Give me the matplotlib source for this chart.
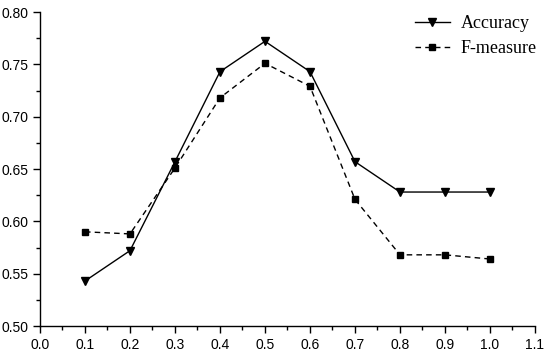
import numpy as np
import matplotlib
matplotlib.use('Agg')
import matplotlib.pyplot as plt
from matplotlib.ticker import MultipleLocator

thresholds = [0.1, 0.2, 0.3, 0.4, 0.5, 0.6, 0.7, 0.8, 0.9, 1.0]
accuracy = [0.543, 0.572, 0.657, 0.743, 0.772, 0.743, 0.657, 0.628, 0.628, 0.628]
f_measure = [0.590, 0.588, 0.651, 0.718, 0.751, 0.729, 0.621, 0.568, 0.568, 0.564]

plt.rcParams['font.family'] = ['Liberation Sans', 'DejaVu Sans']

fig = plt.figure(figsize=(5.5, 3.51), dpi=100)
ax = fig.add_axes([0.0727, 0.0712, 0.90, 0.8946])

ax.plot(thresholds, accuracy, color='black', linewidth=1.0, marker='v',
        markersize=6, label='Accuracy')
ax.plot(thresholds, f_measure, color='black', linewidth=1.0, linestyle=(0, (4, 3)),
        marker='s', markersize=4.5, label='F-measure')

ax.set_xlim(0.0, 1.1)
ax.set_ylim(0.50, 0.80)
ax.xaxis.set_major_locator(MultipleLocator(0.1))
ax.xaxis.set_minor_locator(MultipleLocator(0.05))
ax.yaxis.set_major_locator(MultipleLocator(0.05))
ax.yaxis.set_minor_locator(MultipleLocator(0.025))
ax.xaxis.set_major_formatter(plt.FormatStrFormatter('%.1f'))
ax.yaxis.set_major_formatter(plt.FormatStrFormatter('%.2f'))

for side in ['top', 'right']:
    ax.spines[side].set_visible(False)
for side in ['left', 'bottom']:
    ax.spines[side].set_linewidth(1.0)

ax.tick_params(which='major', direction='out', length=5, width=1, labelsize=10)
ax.tick_params(which='minor', direction='out', length=3, width=1)

ax.legend(loc='upper right', bbox_to_anchor=(1.003, 0.99), borderaxespad=0,
          frameon=False, prop={'family': 'Liberation Serif', 'size': 13},
          handlelength=1.9, handletextpad=0.6, labelspacing=0.45,
          borderpad=0)

fig.savefig('out.png', dpi=100)
